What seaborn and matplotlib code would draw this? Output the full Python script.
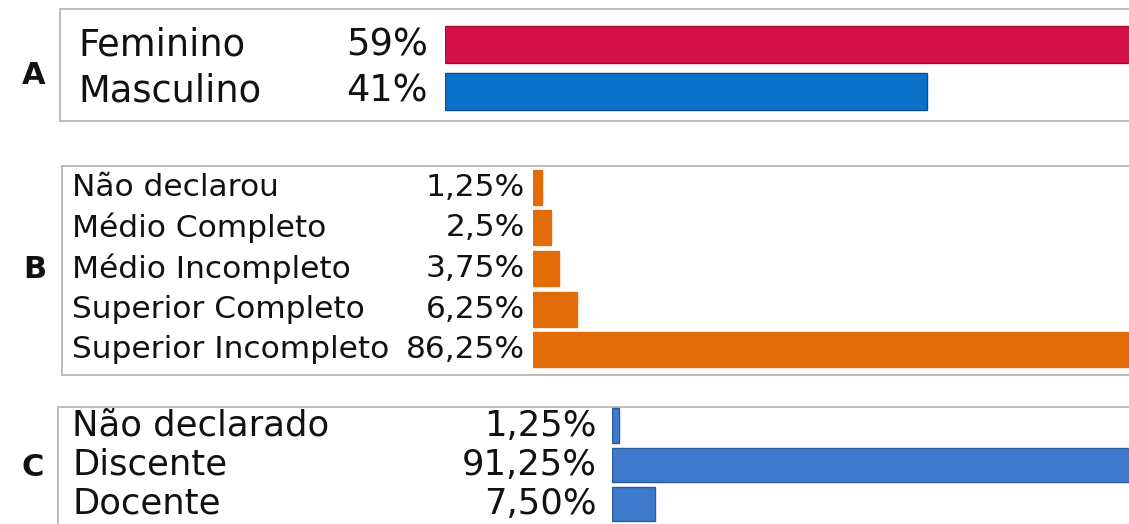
import matplotlib
matplotlib.use("Agg")
import matplotlib.pyplot as plt
import seaborn as sns
import pandas as pd
from matplotlib.transforms import blended_transform_factory

# ---- data -------------------------------------------------------------
sexo = ["Feminino", "Masculino"]
sexo_pct = [59, 41]
sexo_txt = ["59%", "41%"]
sexo_cores = ["#d41249", "#0a72c8"]

escolaridade = ["Não declarou", "Médio Completo", "Médio Incompleto",
                "Superior Completo", "Superior Incompleto"]
escolaridade_pct = [1.25, 2.5, 3.75, 6.25, 86.25]
escolaridade_txt = ["1,25%", "2,5%", "3,75%", "6,25%", "86,25%"]

vinculo = ["Não declarado", "Discente", "Docente"]
vinculo_pct = [1.25, 91.25, 7.50]
vinculo_txt = ["1,25%", "91,25%", "7,50%"]

# ---- figure -----------------------------------------------------------
sns.set_theme(style="white")
plt.rcParams["font.family"] = ["DejaVu Sans"]

W, H = 1129, 524
fig = plt.figure(figsize=(W / 100, H / 100), dpi=100)
fig.patch.set_facecolor("white")


def rect(left, top, right, bottom):
    """Pixel box (origin top-left) -> figure fraction rectangle."""
    return [left / W, 1 - bottom / H, (right - left) / W, (bottom - top) / H]


def panel(letter, letter_xy, box, cats, vals, txts, colors, edges,
          rows, bar_left, px_per_pct, text_x, pct_right, fs, bar_w):
    # framed panel
    bax = fig.add_axes(rect(*box))
    bax.set_xticks([])
    bax.set_yticks([])
    bax.set_facecolor("none")
    for s in bax.spines.values():
        s.set_color("#b8b8b8")
        s.set_linewidth(1.3)

    # bars
    ax = fig.add_axes(rect(bar_left, rows[0], W + 20, rows[1]))
    df = pd.DataFrame({"cat": cats, "pct": vals})
    sns.barplot(data=df, x="pct", y="cat", hue="cat", palette=colors,
                orient="h", width=bar_w, legend=False, ax=ax,
                saturation=1, linewidth=0)
    for patch, ec in zip(ax.patches, edges):
        patch.set_edgecolor(ec)
        patch.set_linewidth(1.0)
    ax.set_xlim(0, (W + 20 - bar_left) / px_per_pct)
    ax.set_ylim(len(cats) - 0.5, -0.5)
    ax.axis("off")

    trans = blended_transform_factory(fig.transFigure, ax.transData)
    for i, (c, t) in enumerate(zip(cats, txts)):
        ax.text(text_x / W, i, c, transform=trans, ha="left",
                va="center", fontsize=fs, color="#111111")
        ax.text(pct_right / W, i, t, transform=trans, ha="right",
                va="center", fontsize=fs, color="#111111")

    fig.text(letter_xy[0] / W, 1 - letter_xy[1] / H, letter, fontsize=22,
             fontweight="bold", ha="center", va="center", color="#111111")


panel("A", (34, 76), (60, 9, 1145, 121),
      sexo, sexo_pct, sexo_txt, sexo_cores, ["#a30d38", "#0a4f92"],
      rows=(21.5, 114.5), bar_left=445, px_per_pct=482 / 41,
      text_x=78, pct_right=428, fs=26.5, bar_w=0.8)

panel("B", (35, 270), (62, 166, 1145, 375),
      escolaridade, escolaridade_pct, escolaridade_txt,
      ["#e26b0a"] * 5, ["#e26b0a"] * 5,
      rows=(167, 370), bar_left=533, px_per_pct=7.0,
      text_x=72, pct_right=525, fs=22.5, bar_w=0.86)

panel("C", (33, 467), (58, 407, 1145, 560),
      vinculo, vinculo_pct, vinculo_txt,
      ["#3d7acb"] * 3, ["#2a5a98"] * 3,
      rows=(406, 523.5), bar_left=612, px_per_pct=43 / 7.5,
      text_x=72, pct_right=597, fs=25.5, bar_w=0.88)

fig.savefig("out.png", dpi=100, facecolor="white")
